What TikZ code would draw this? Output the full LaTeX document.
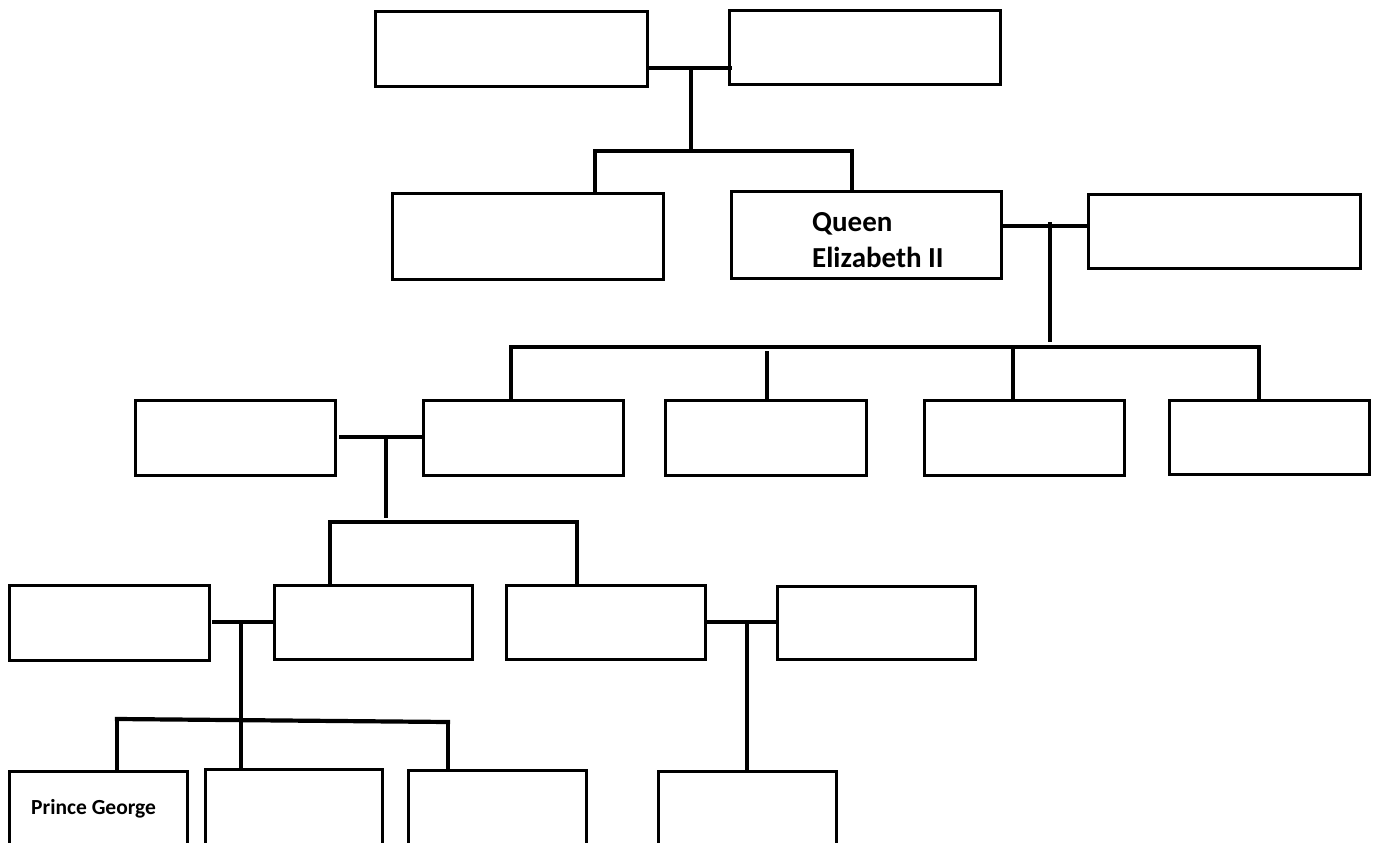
\documentclass[tikz,border=0pt]{standalone}
\usepackage{fontspec}
\setmainfont{Carlito}
\usetikzlibrary{fit,calc}
\tikzset{
  box/.style={draw, line width=3pt, inner sep=0pt, outer sep=0pt, fill=white},
  conn/.style={line width=3.2pt},
  couple/.style={line width=4.2pt},
  barline/.style={line width=4.2pt, line cap=rect},
  lbl/.style={inner sep=0pt, font=\bfseries, align=left}
}
\begin{document}
\begin{tikzpicture}[x=1pt,y=-1pt]
\useasboundingbox (0,0) rectangle (1373,843);
\fill[white] (0,0) rectangle (1373,843);
\clip (0,0) rectangle (1373,843);
% generation 1
\node[box, fit={(375,12) (647,86)}] (A) {};
\node[box, fit={(729,11) (1000,84)}] (B) {};
% generation 2
\node[box, fit={(392,193) (663,279)}] (C) {};
\node[box, fit={(731,191) (1001,278)}] (Q) {};
\node[box, fit={(1088,194) (1360,268)}] (D) {};
% generation 3
\node[box, fit={(135,400) (335,475)}] (E) {};
\node[box, fit={(423,400) (623,475)}] (F) {};
\node[box, fit={(665,400) (866,475)}] (G) {};
\node[box, fit={(924,400) (1124,475)}] (H) {};
\node[box, fit={(1169,400) (1369,474)}] (I) {};
% generation 4
\node[box, fit={(9,585) (209,660)}] (J) {};
\node[box, fit={(274,585) (472,659)}] (K) {};
\node[box, fit={(506,585) (705,659)}] (L) {};
\node[box, fit={(777,586) (975,659)}] (M) {};
% generation 5
\node[box, fit={(9,771) (187,870)}] (N) {};
\node[box, fit={(205,769) (382,870)}] (O) {};
\node[box, fit={(408,770) (586,870)}] (P) {};
\node[box, fit={(658,771) (836,870)}] (R) {};
% texts
\node[lbl, anchor=base west, font=\fontsize{29}{36}\selectfont\bfseries] (qtext) at (812,267) {Queen\\Elizabeth II};
\node[lbl, anchor=base west, font=\fontsize{21.5}{24}\selectfont\bfseries] (gtext) at (31,814) {Prince George};
% family 1
\coordinate (m1) at (691,68);
\coordinate (b1l) at (595,151);
\coordinate (b1r) at (852,151);
\draw[couple] (A.east |- m1) -- ([xshift=3pt]B.west |- m1);
\draw[conn] (m1) -- (m1 |- b1l);
\draw[barline] (b1l) -- (b1r);
\draw[conn] (b1l) -- (b1l |- C.north);
\draw[conn] (b1r) -- (b1r |- Q.north);
% family 2
\coordinate (m2) at (1050,226);
\coordinate (b2l) at (511,347);
\coordinate (b2r) at (1259,347);
\draw[couple] (Q.east |- m2) -- (D.west |- m2);
\draw[conn] ([yshift=4pt]m2) -- (1050,342);
\draw[barline] (b2l) -- (b2r);
\draw[conn] (b2l) -- (b2l |- F.north);
\draw[conn] (767,351) -- (767,400 |- G.north);
\draw[conn] (1013,347) -- (1013,400 |- H.north);
\draw[conn] (b2r) -- (b2r |- I.north);
% family 3
\coordinate (m3) at (386,437);
\coordinate (b3l) at (330,522);
\coordinate (b3r) at (577,522);
\draw[couple] ([xshift=4pt]E.east |- m3) -- (F.west |- m3);
\draw[conn] (m3) -- (386,518);
\draw[barline] (b3l) -- (b3r);
\draw[conn] (b3l) -- (b3l |- K.north);
\draw[conn] (b3r) -- (b3r |- L.north);
% family 4
\coordinate (m4) at (241,622);
\coordinate (b4l) at (117,719);
\coordinate (b4r) at (448,722);
\draw[couple] ([xshift=3pt]J.east |- m4) -- (K.west |- m4);
\draw[conn] (m4) -- (m4 |- O.north);
\draw[barline] (b4l) -- (b4r);
\draw[conn] (b4l) -- (b4l |- N.north);
\draw[conn] (b4r) -- (b4r |- P.north);
% family 5
\coordinate (m5) at (747,622);
\draw[couple] (L.east |- m5) -- (M.west |- m5);
\draw[conn] (m5) -- (m5 |- R.north);
\end{tikzpicture}
\end{document}
